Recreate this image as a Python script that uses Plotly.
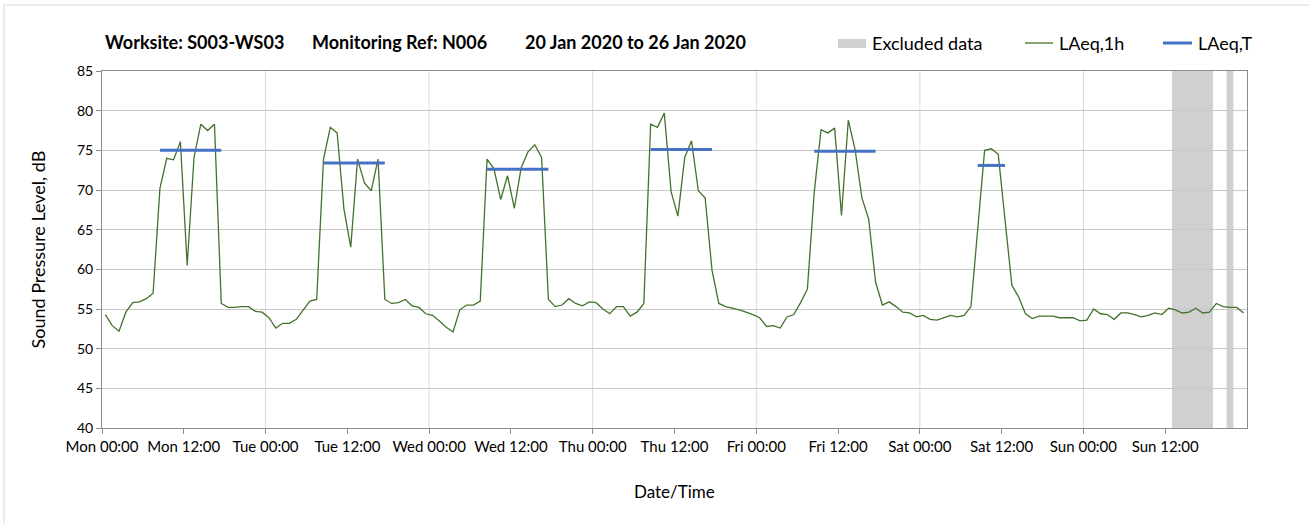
import plotly.graph_objects as go

# hourly LAeq,1h values, first point at Mon 00:30 (hours since Mon 00:00)
hour_offset = 0.5
laeq_1h = [
    54.3, 52.9, 52.2, 54.6, 55.8, 55.9, 56.3, 57.0, 70.2, 74.0, 73.8, 76.1,
    60.5, 74.1, 78.3, 77.5, 78.3, 55.7, 55.2, 55.2, 55.3, 55.3, 54.7, 54.6,
    53.9, 52.6, 53.2, 53.2, 53.7, 54.8, 56.0, 56.2, 73.9, 77.9, 77.2, 67.6,
    62.8, 73.9, 70.9, 69.9, 73.9, 56.2, 55.7, 55.8, 56.2, 55.4, 55.2, 54.4,
    54.2, 53.5, 52.7, 52.1, 54.9, 55.5, 55.5, 56.0, 73.9, 72.7, 68.8, 71.8,
    67.7, 72.8, 74.8, 75.7, 74.1, 56.2, 55.3, 55.5, 56.3, 55.7, 55.4, 55.9,
    55.8, 55.0, 54.4, 55.3, 55.3, 54.1, 54.6, 55.7, 78.3, 77.9, 79.7, 69.8,
    66.7, 74.1, 76.2, 69.9, 69.0, 59.9, 55.7, 55.3, 55.1, 54.9, 54.6, 54.3,
    53.9, 52.8, 52.9, 52.6, 54.0, 54.3, 55.8, 57.5, 69.7, 77.6, 77.2, 77.8,
    66.8, 78.8, 75.1, 69.0, 66.3, 58.4, 55.5, 55.9, 55.3, 54.6, 54.5, 54.0,
    54.2, 53.7, 53.6, 53.9, 54.2, 54.0, 54.2, 55.3, 65.4, 75.0, 75.2, 74.5,
    66.2, 58.0, 56.5, 54.4, 53.8, 54.1, 54.1, 54.1, 53.9, 53.9, 53.9, 53.5,
    53.6, 55.0, 54.4, 54.3, 53.7, 54.5, 54.5, 54.3, 54.0, 54.2, 54.5, 54.3,
    55.1, 54.9, 54.5, 54.6, 55.1, 54.5, 54.6, 55.7, 55.3, 55.2, 55.2, 54.5,
]
hours = [hour_offset + i for i in range(len(laeq_1h))]

# LAeq,T working periods (hours since Mon 00:00)
t_start = [8.5, 32.5, 56.5, 80.5, 104.5, 128.5]
t_end = [17.5, 41.5, 65.5, 89.5, 113.5, 132.5]
t_level = [75.0, 73.4, 72.6, 75.1, 74.9, 73.1]

# excluded data periods
exc_start = [157.0, 165.0]
exc_end = [163.0, 166.0]

tick_hours = list(range(0, 168, 12))
tick_labels = ["Mon 00:00", "Mon 12:00", "Tue 00:00", "Tue 12:00", "Wed 00:00",
               "Wed 12:00", "Thu 00:00", "Thu 12:00", "Fri 00:00", "Fri 12:00",
               "Sat 00:00", "Sat 12:00", "Sun 00:00", "Sun 12:00"]
day_lines = [24, 48, 72, 96, 120, 144]

FONT = "Lato, 'Open Sans', sans-serif"
GREEN = "#43722c"
BLUE = "#4472c4"
GREY_BAND = "#d0d0d0"

tx, ty = [], []
for s, e, v in zip(t_start, t_end, t_level):
    tx += [s, e, None]
    ty += [v, v, None]

fig = go.Figure()
fig.add_trace(go.Scatter(x=hours, y=laeq_1h, mode="lines", name="LAeq,1h",
                         line=dict(color=GREEN, width=1.3), showlegend=False))
fig.add_trace(go.Scatter(x=tx, y=ty, mode="lines", name="LAeq,T",
                         line=dict(color=BLUE, width=3), showlegend=False))

shapes = []
for s, e in zip(exc_start, exc_end):
    shapes.append(dict(type="rect", xref="x", yref="paper", x0=s, x1=e, y0=0, y1=1,
                       fillcolor=GREY_BAND, line_width=0, layer="below"))
for d in day_lines:
    shapes.append(dict(type="line", xref="x", yref="paper", x0=d, x1=d, y0=0, y1=1,
                       line=dict(color="#d9d9d9", width=1), layer="below"))
# outer chart frame
shapes.append(dict(type="rect", xref="paper", yref="paper", x0=-0.0856, x1=1.3,
                   y0=-0.5, y1=1.185, line=dict(color="#d9d9d9", width=1),
                   fillcolor="rgba(0,0,0,0)"))

# legend drawn by hand: (label, kind, symbol x0, symbol x1, text x)
legend_items = [("Excluded data", "rect", 0.6428, 0.6672, 0.6707),
                ("LAeq,1h", "line1h", 0.8061, 0.8306, 0.8341),
                ("LAeq,T", "lineT", 0.9266, 0.9520, 0.9555)]
leg_y = 1.0784
for label, kind, x0, x1, xt in legend_items:
    if kind == "rect":
        shapes.append(dict(type="rect", xref="paper", yref="paper", x0=x0, x1=x1,
                           y0=1.0644, y1=1.0896, fillcolor=GREY_BAND, line_width=0))
    else:
        col, w = (GREEN, 1.3) if kind == "line1h" else (BLUE, 3)
        shapes.append(dict(type="line", xref="paper", yref="paper", x0=x0, x1=x1,
                           y0=leg_y, y1=leg_y, line=dict(color=col, width=w)))

annotations = []
for label, kind, x0, x1, xt in legend_items:
    annotations.append(dict(text=label, x=xt, y=leg_y, xref="paper", yref="paper",
                            xanchor="left", yanchor="middle", showarrow=False,
                            font=dict(size=18, color="#000000", family=FONT)))

title_parts = [("Worksite: S003-WS03", 0.0009), ("Monitoring Ref: N006", 0.1817),
               ("20 Jan 2020 to 26 Jan 2020", 0.3677)]
for t, x in title_parts:
    annotations.append(dict(text="<b>%s</b>" % t, x=x, y=1.081, xref="paper",
                            yref="paper", xanchor="left", yanchor="middle",
                            showarrow=False,
                            font=dict(size=18, color="#000000", family=FONT)))
annotations.append(dict(text="Sound Pressure Level, dB", x=-0.0559, y=0.5, xref="paper",
                        yref="paper", textangle=-90, showarrow=False,
                        xanchor="center", yanchor="middle",
                        font=dict(size=18, color="#000000", family=FONT)))
annotations.append(dict(text="Date/Time", x=0.5, y=-0.1765, xref="paper", yref="paper",
                        showarrow=False, xanchor="center", yanchor="middle",
                        font=dict(size=17, color="#000000", family=FONT)))

fig.update_layout(
    width=1309, height=524,
    margin=dict(l=102, r=62, t=71, b=96, autoexpand=False),
    paper_bgcolor="white", plot_bgcolor="white",
    font=dict(family=FONT, size=13, color="#000000"),
    shapes=shapes,
    annotations=annotations,
    showlegend=False,
)
fig.update_xaxes(range=[0, 168], tickmode="array", tickvals=tick_hours,
                 ticktext=tick_labels, showgrid=False, zeroline=False,
                 showline=True, linecolor="#8c8c8c", linewidth=1, mirror=True,
                 ticks="outside", ticklen=5, tickcolor="#8c8c8c",
                 tickfont=dict(size=15))
fig.update_yaxes(range=[40, 85], dtick=5, showgrid=True, gridcolor="#c8c8c8",
                 gridwidth=1.3, zeroline=False, showline=True, linecolor="#8c8c8c",
                 linewidth=1, mirror=True, ticks="outside", ticklen=5,
                 tickcolor="#8c8c8c", tickfont=dict(size=14))

fig.write_html("out.html", config={"displayModeBar": False},
               post_script="document.body.style.margin='0';")
